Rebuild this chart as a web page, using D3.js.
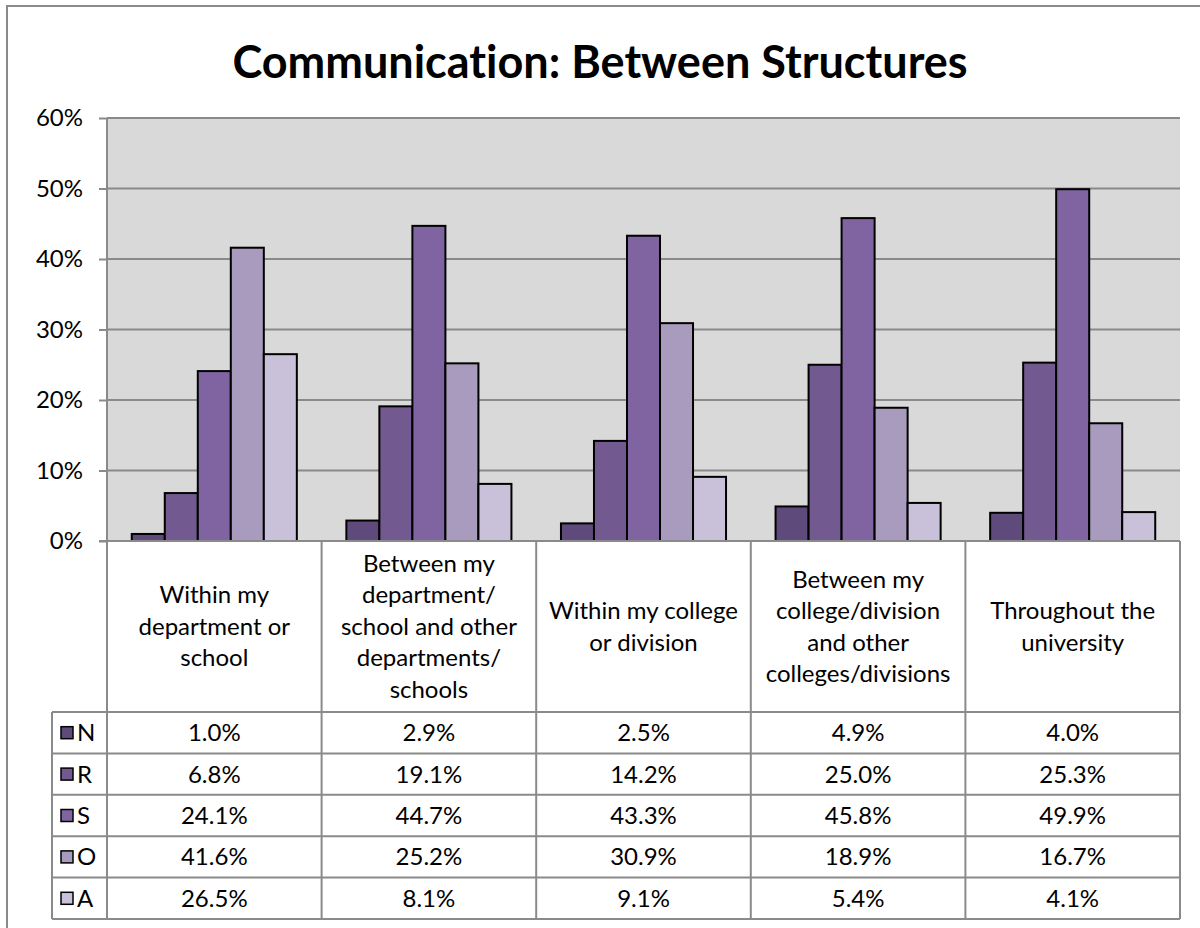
<!DOCTYPE html>
<html>
<head>
<meta charset="utf-8">
<script src="https://cdn.jsdelivr.net/npm/d3@7"></script>
<style>
  body { margin: 0; background: #fff; }
  text { font-family: Lato, "Open Sans", sans-serif; fill: #000; font-variant-ligatures: none; }
</style>
</head>
<body>
<div id="chart-area"></div>
<script>
// data
const categories = [
    ["Within my", "department or", "school"],
    ["Between my", "department/", "school and other", "departments/", "schools"],
    ["Within my college", "or division"],
    ["Between my", "college/division", "and other", "colleges/divisions"],
    ["Throughout the", "university"]
];
const seriesNames = ["N", "R", "S", "O", "A"];
const seriesColors = ["#5f4a7c", "#72598f", "#8064a2", "#a99bbd", "#c9c0d9"];
const valuesN = [1.0, 2.9, 2.5, 4.9, 4.0];
const valuesR = [6.8, 19.1, 14.2, 25.0, 25.3];
const valuesS = [24.1, 44.7, 43.3, 45.8, 49.9];
const valuesO = [41.6, 25.2, 30.9, 18.9, 16.7];
const valuesA = [26.5, 8.1, 9.1, 5.4, 4.1];
const yTicks = [0, 10, 20, 30, 40, 50, 60];
const title = "Communication: Between Structures";

const seriesValues = [valuesN, valuesR, valuesS, valuesO, valuesA];

const W = 1200, H = 928;
const PLOT = { LEFT: 107, RIGHT: 1180, TOP: 118, BOTTOM: 541 };
const CAT_ROW_BOTTOM = 712;
const ROW_H = 41.4;
const LEGEND_LEFT = 52;
const LINE_COLOR = "#8a8a8a";
const FONT = 24;

const svg = d3.select("#chart-area").append("svg")
    .attr("width", W)
    .attr("height", H);

// outer chart frame
svg.append("rect")
    .attr("x", 7).attr("y", 6)
    .attr("width", W + 20).attr("height", H + 20)
    .attr("fill", "#fff")
    .attr("stroke", LINE_COLOR)
    .attr("stroke-width", 2);

// title
svg.append("text")
    .attr("x", 600)
    .attr("y", 78)
    .attr("text-anchor", "middle")
    .attr("font-size", "45px")
    .attr("font-weight", "bold")
    .text(title);

const x = d3.scaleBand()
    .domain(d3.range(categories.length))
    .range([PLOT.LEFT, PLOT.RIGHT]);

const xInner = d3.scaleBand()
    .domain(seriesNames)
    .range([0, x.bandwidth()])
    .paddingOuter(0.75);

const y = d3.scaleLinear()
    .domain([0, 60])
    .range([PLOT.BOTTOM, PLOT.TOP]);

// plot background
svg.append("rect")
    .attr("x", PLOT.LEFT).attr("y", PLOT.TOP)
    .attr("width", PLOT.RIGHT - PLOT.LEFT)
    .attr("height", PLOT.BOTTOM - PLOT.TOP)
    .attr("fill", "#d9d9d9");

// y axis with gridlines
const yAxis = svg.append("g")
    .attr("transform", `translate(${PLOT.LEFT},0)`)
    .call(d3.axisLeft(y).tickValues(yTicks).tickSize(8).tickPadding(16).tickFormat(d => d + "%"));
yAxis.select(".domain").remove();
yAxis.selectAll(".tick line").attr("stroke", LINE_COLOR).attr("stroke-width", 2);
yAxis.selectAll(".tick text").attr("font-size", FONT + "px").attr("font-family", "Lato, sans-serif").attr("fill", "#000");

svg.append("g")
    .selectAll("line")
    .data(yTicks)
    .join("line")
    .attr("x1", PLOT.LEFT).attr("x2", PLOT.RIGHT)
    .attr("y1", d => y(d)).attr("y2", d => y(d))
    .attr("stroke", LINE_COLOR)
    .attr("stroke-width", 2);

// bars
const groups = svg.append("g")
    .selectAll("g")
    .data(seriesNames)
    .join("g")
    .attr("fill", (d, i) => seriesColors[i]);

groups.selectAll("rect")
    .data((s, i) => seriesValues[i].map((v, c) => ({ s, v, c })))
    .join("rect")
    .attr("x", d => x(d.c) + xInner(d.s))
    .attr("y", d => y(d.v))
    .attr("width", xInner.bandwidth())
    .attr("height", d => y(0) - y(d.v))
    .attr("stroke", "#000")
    .attr("stroke-width", 2);

// table lines
const tableBottom = CAT_ROW_BOTTOM + ROW_H * seriesNames.length;
const grid = svg.append("g")
    .attr("stroke", LINE_COLOR)
    .attr("stroke-width", 2);

grid.append("line")
    .attr("x1", PLOT.LEFT).attr("x2", PLOT.LEFT)
    .attr("y1", PLOT.TOP).attr("y2", tableBottom);

grid.selectAll(".vline")
    .data(d3.range(1, categories.length + 1))
    .join("line")
    .attr("class", "vline")
    .attr("x1", d => x(d - 1) + x.bandwidth()).attr("x2", d => x(d - 1) + x.bandwidth())
    .attr("y1", PLOT.BOTTOM).attr("y2", tableBottom);

grid.append("line")
    .attr("x1", LEGEND_LEFT).attr("x2", LEGEND_LEFT)
    .attr("y1", CAT_ROW_BOTTOM).attr("y2", tableBottom);

grid.selectAll(".hline")
    .data(d3.range(seriesNames.length + 1))
    .join("line")
    .attr("class", "hline")
    .attr("x1", LEGEND_LEFT).attr("x2", PLOT.RIGHT)
    .attr("y1", d => CAT_ROW_BOTTOM + d * ROW_H)
    .attr("y2", d => CAT_ROW_BOTTOM + d * ROW_H);

grid.append("line")
    .attr("x1", PLOT.LEFT - 8).attr("x2", PLOT.RIGHT)
    .attr("y1", PLOT.BOTTOM).attr("y2", PLOT.BOTTOM);

// category labels
const LINE_H = 31.5;
const catMid = (PLOT.BOTTOM + CAT_ROW_BOTTOM) / 2;
svg.append("g")
    .selectAll("text")
    .data(categories)
    .join("text")
    .attr("text-anchor", "middle")
    .attr("font-size", FONT + "px")
    .each(function (lines, i) {
        const t = d3.select(this);
        lines.forEach((line, j) => {
            t.append("tspan")
                .attr("x", x(i) + x.bandwidth() / 2)
                .attr("y", catMid + (j - (lines.length - 1) / 2) * LINE_H)
                .attr("dy", "0.35em")
                .text(line);
        });
    });

// legend column + values
const rows = svg.append("g")
    .selectAll("g")
    .data(seriesNames)
    .join("g")
    .attr("transform", (d, i) => `translate(0,${CAT_ROW_BOTTOM + i * ROW_H + ROW_H / 2})`);

rows.append("rect")
    .attr("x", 61).attr("y", -6)
    .attr("width", 12).attr("height", 12)
    .attr("fill", (d, i) => seriesColors[i])
    .attr("stroke", "#000")
    .attr("stroke-width", 1.5);

rows.append("text")
    .attr("x", 77)
    .attr("dy", "0.35em")
    .attr("font-size", FONT + "px")
    .text(d => d);

rows.selectAll(".val")
    .data((s, i) => seriesValues[i])
    .join("text")
    .attr("class", "val")
    .attr("x", (v, c) => x(c) + x.bandwidth() / 2)
    .attr("dy", "0.35em")
    .attr("text-anchor", "middle")
    .attr("font-size", FONT + "px")
    .text(v => v.toFixed(1) + "%");
</script>
</body>
</html>
